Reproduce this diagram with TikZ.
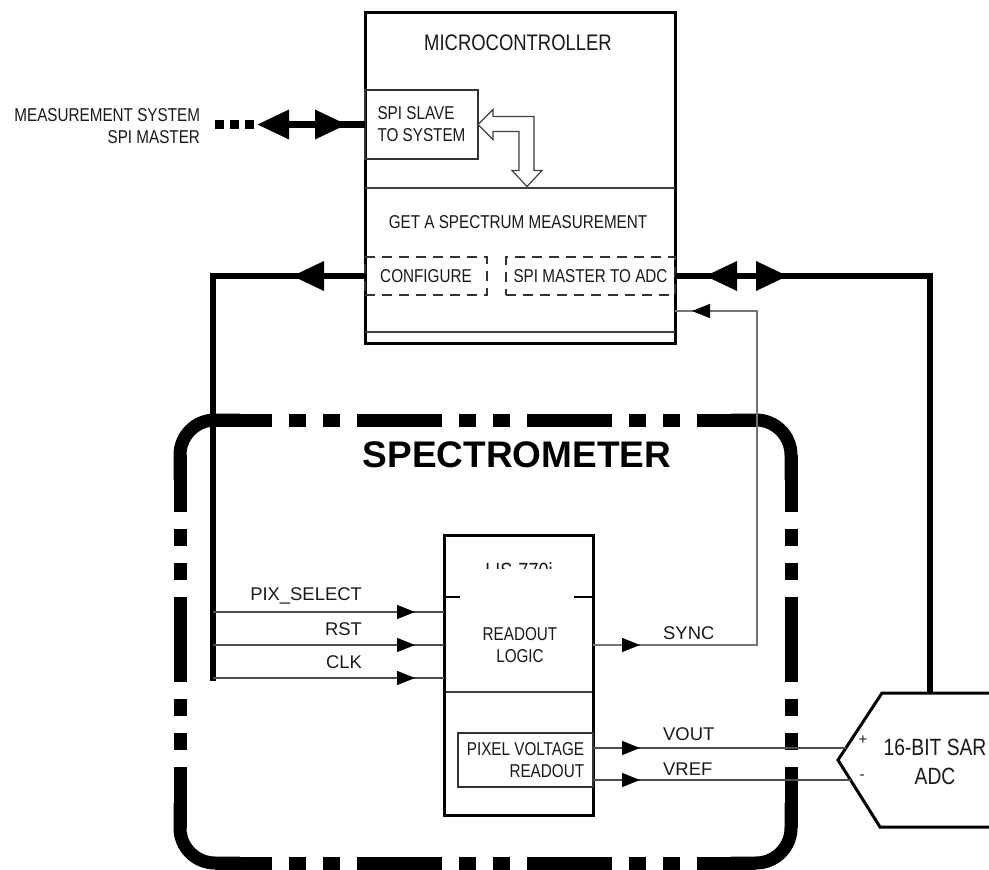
\documentclass[tikz,border=0pt]{standalone}
\usepackage{fontspec}
\setmainfont{Liberation Sans}[FakeStretch=0.82]
\newfontfamily\lebar{Liberation Sans}
\usetikzlibrary{arrows.meta,decorations.markings}

\begin{document}
\begin{tikzpicture}[x=1pt, y=-1pt, line join=miter,
      teks/.style={inner sep=0pt, outer sep=0pt, text=black!90, font=\fontsize{18.6}{22}\selectfont},
      namasinyal/.style={inner sep=0pt, text=black!90, font=\lebar\fontsize{18.4}{22}\selectfont},
      blok/.style={draw, line width=3pt, inner sep=0pt, outer sep=0pt},
      kotak/.style={draw=black!80, line width=1.3pt, inner sep=0pt, outer sep=0pt},
      putus/.style={teks, draw=black!80, line width=1.4pt, dash pattern=on 10pt off 7pt},
      garis/.style={draw=black!75, line width=1.3pt},
      bus/.style={line width=6.5pt},
      sinyal/.style={draw=black!70, line width=1.4pt},
      bingkai/.style={line width=13pt, dash pattern=on 85pt off 17pt on 17pt off 17pt on 17pt off 17pt, dash phase=28pt},
      panah/.style={postaction={decorate, decoration={markings,
          mark=at position #1 with {\arrow{Triangle[length=18pt,width=14pt,color=black]}}}}},
      panah bus/.style={postaction={decorate, decoration={markings,
          mark=at position #1 with {\arrow{Triangle[length=32pt,width=28pt]}}}}},
      panah bus balik/.style={postaction={decorate, decoration={markings,
          mark=at position #1 with {\arrowreversed{Triangle[length=32pt,width=28pt]}}}}}]
    \useasboundingbox (0,0) rectangle (989,870);
    \fill[white] (0,0) rectangle (989,870);
    \clip (0,0) rectangle (989,870);

    % bingkai spektrometer
    \draw[bingkai] (215,420) -- (756,420);
    \draw[bingkai] (215,863) -- (756,863);
    \draw[bingkai] (180,455) -- (180,828);
    \draw[bingkai] (791,455) -- (791,828);
    \draw[bingkai, solid, rounded corners=35pt] (180,480) |- (240,420);
    \draw[bingkai, solid, rounded corners=35pt] (731,420) -| (791,480);
    \draw[bingkai, solid, rounded corners=35pt] (180,803) |- (240,863);
    \draw[bingkai, solid, rounded corners=35pt] (731,863) -| (791,803);
    \node[inner sep=0pt, font=\lebar\bfseries\fontsize{37}{40}\selectfont] (spek) at (517,455) {SPECTROMETER};

    % mikrokontroler
    \node[blok, minimum width=310pt, minimum height=331pt] (mcu) at (520,177.5) {};
    \node[teks, font=\fontsize{22.5}{26}\selectfont] (judul) at (518,43) {MICROCONTROLLER};
    \node[kotak, teks, anchor=north west, minimum width=113pt, minimum height=69pt, align=left] (slave) at (365,90) {SPI SLAVE\\TO SYSTEM};
    \draw[garis] (365,188) -- (675,188);
    \node[teks] (ukur) at (518,222) {GET A SPECTRUM MEASUREMENT};
    \node[putus, minimum width=122pt, minimum height=38pt] (cfg) at (426,276) {CONFIGURE};
    \node[putus, minimum width=169pt, minimum height=38pt] (spim) at (590.5,276) {SPI MASTER TO ADC};
    \draw[garis] (365,332) -- (675,332);
    \draw[draw=black!75, line width=1.2pt, fill=white] (slave.east) -- ++(15,-15) -- ++(0,7) -- ++(41,0) -- ++(0,54)
      -- ++(8,0) -- ++(-15,16) -- ++(-15,-16) -- ++(7,0) -- ++(0,-39) -- ++(-26,0) -- ++(0,8) -- cycle;

    % sistem pengukuran
    \node[teks, anchor=east, align=right] (sistem) at (200,126.5) {MEASUREMENT SYSTEM\\SPI MASTER};
    \coordinate (msys) at (257,124.5);
    \draw[bus, -{Triangle[length=32pt,width=28pt]}, panah bus balik=18pt] (slave.west) -- (msys);
    \draw[line width=9pt, dash pattern=on 9pt off 6pt, dash phase=12pt] (msys) -- ++(-44,0);

    % LIS-770i
    \node[blok, anchor=north west, minimum width=149pt, minimum height=280pt] (lis) at (444,535) {};
    \begin{scope}
      \clip (446,550) rectangle (592,568);
      \node[teks, font=\fontsize{22}{24}\selectfont] (lisnama) at (519,571) {LIS-770i};
    \end{scope}
    \draw[line width=2pt] (446,597) -- (460,597);
    \draw[line width=2pt] (574,597) -- (592,597);
    \node[teks, align=center] (logika) at (520,645) {READOUT\\LOGIC};
    \draw[garis] (446,692) -- (592,692);
    \node[kotak, teks, anchor=north east, minimum width=135pt, minimum height=54pt, align=right] (pixv) at (593,733) {PIXEL VOLTAGE\\READOUT};

    % jalur konfigurasi
    \coordinate (busbawah) at (213,681);
    \draw[bus, panah bus=73pt] (cfg.west) -| (busbawah);
    \coordinate (pix) at (213,612);
    \coordinate (rst) at (213,645);
    \coordinate (clk) at (213,678);
    \draw[sinyal, panah=202pt] (pix) -- (pix -| lis.west);
    \draw[sinyal, panah=202pt] (rst) -- (rst -| lis.west);
    \draw[sinyal, panah=202pt] (clk) -- (clk -| lis.west);
    \node[namasinyal, anchor=base east] (lpix) at (362,600) {PIX\_SELECT};
    \node[namasinyal, anchor=base east] (lrst) at (362,635) {RST};
    \node[namasinyal, anchor=base east] (lclk) at (362,668) {CLK};

    % sinkronisasi
    \coordinate (balik) at (757,311);
    \draw[sinyal, draw=black!55, panah=47pt, panah=563pt] (lis.east |- rst) -| (balik) -- (balik -| mcu.east);
    \node[namasinyal, anchor=base west] (lsync) at (663,639) {SYNC};

    % ADC
    \draw[line width=3pt] (1000,693) -- (882,693) -- (838,760) -- (880,827) -- (1000,827);
    \node[teks, align=center, font=\fontsize{23.5}{29}\selectfont] (adc) at (935,762) {16-BIT SAR\\ADC};
    \node[namasinyal, font=\lebar\fontsize{15}{16}\selectfont] (plus) at (863,740) {+};
    \node[namasinyal, font=\lebar\fontsize{15}{16}\selectfont] (minus) at (862,777) {-};
    \coordinate (adcplus) at (846,748);
    \coordinate (adcminus) at (850.5,780);
    \coordinate (adcatas) at (930,693);
    \draw[sinyal, panah=47pt] (adcplus -| pixv.east) -- (adcplus);
    \draw[sinyal, panah=47pt] (adcminus -| pixv.east) -- (adcminus);
    \node[namasinyal, anchor=base west] (lvout) at (663,740) {VOUT};
    \node[namasinyal, anchor=base west] (lvref) at (663,775) {VREF};
    \draw[bus, panah bus balik=30pt, panah bus=113pt] (spim.east) -| (adcatas);
  \end{tikzpicture}
\end{document}
